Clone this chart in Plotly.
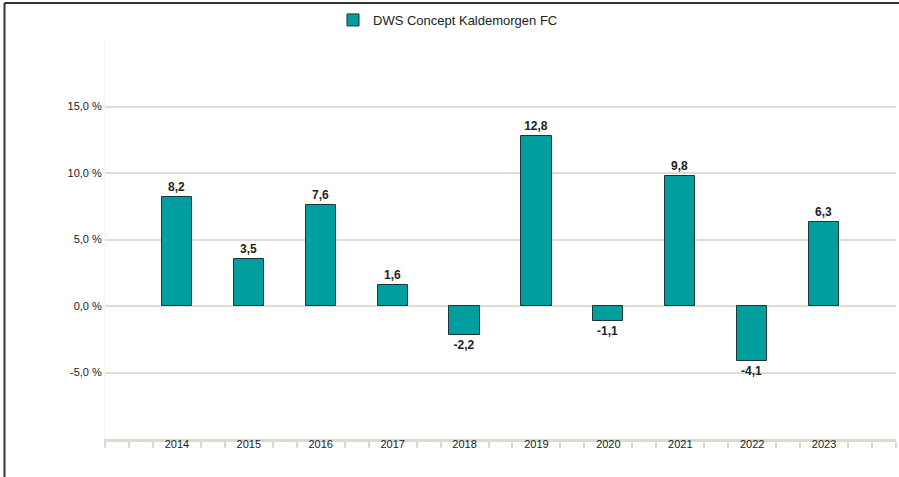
import plotly.graph_objects as go

years = ["2014", "2015", "2016", "2017", "2018", "2019", "2020", "2021", "2022", "2023"]
returns = [8.2, 3.5, 7.6, 1.6, -2.2, 12.8, -1.1, 9.8, -4.1, 6.3]
series_name = "DWS Concept Kaldemorgen FC"
y_tick_vals = [-5, 0, 5, 10, 15, 20]
y_tick_text = ["-5,0 %", "0,0 %", "5,0 %", "10,0 %", "15,0 %", ""]

W, H = 899, 477
ml, mr, mt, mb = 105, 3, 40, 38
pw, ph = W - ml - mr, H - mt - mb

x_idx = list(range(len(years)))
minor_vals = [i / 3 for i in range(-3, 31) if i % 3 != 0] + [-1, 10]

fig = go.Figure()
fig.add_trace(go.Bar(
    x=x_idx, y=returns, name=series_name, width=0.42,
    marker=dict(color="#009e9f", line=dict(color="#1d3535", width=1)),
    texttemplate="<b>%{y:.1f}</b>", textposition="outside", cliponaxis=False,
    textfont=dict(family="Liberation Sans, Arial", size=12, color="#222222"),
    showlegend=True,
))

fig.update_layout(
    width=W, height=H,
    margin=dict(l=ml, r=mr, t=mt, b=mb, pad=0),
    paper_bgcolor="white", plot_bgcolor="white",
    separators=",.",
    font=dict(family="Liberation Sans, Arial", size=11, color="#222222"),
    bargap=0,
    showlegend=True,
    legend=dict(orientation="h", x=(333 - ml) / pw, xanchor="left",
                y=1 + (mt - 20) / ph, yanchor="middle",
                font=dict(size=13, color="#222222"), bgcolor="rgba(0,0,0,0)",
                itemwidth=30),
    xaxis=dict(range=[-1, 10], tickmode="array", tickvals=x_idx, ticktext=years,
               ticks="", showgrid=False, zeroline=False,
               showline=True, linecolor="#dcd9d1", linewidth=3,
               minor=dict(tickmode="array", tickvals=minor_vals, ticks="outside",
                          ticklen=6, tickwidth=2, tickcolor="#dcd9d1", showgrid=False),
               tickfont=dict(size=11, color="#222222"), ticklabelstandoff=-7),
    yaxis=dict(range=[-10, 20], tickmode="array", tickvals=y_tick_vals, ticktext=y_tick_text,
               showgrid=True, gridcolor="#e0ddd5", gridwidth=2, zeroline=False,
               showline=True, linecolor="#f5f4f1", linewidth=1, ticks="",
               tickfont=dict(size=11, color="#222222"), ticklabelstandoff=0),
)

# outer frame (left and top border)
fig.add_shape(type="line", xref="paper", yref="paper",
              x0=(4.5 - ml) / pw, x1=(4.5 - ml) / pw, y0=-0.2, y1=1 + (mt - 3) / ph,
              line=dict(color="#333333", width=2))
fig.add_shape(type="line", xref="paper", yref="paper",
              x0=(4.5 - ml) / pw, x1=1.01, y0=1 + (mt - 3) / ph, y1=1 + (mt - 3) / ph,
              line=dict(color="#333333", width=2))

fig.write_html("out.html", config={"displayModeBar": False},
               post_script="document.body.style.margin='0';")
